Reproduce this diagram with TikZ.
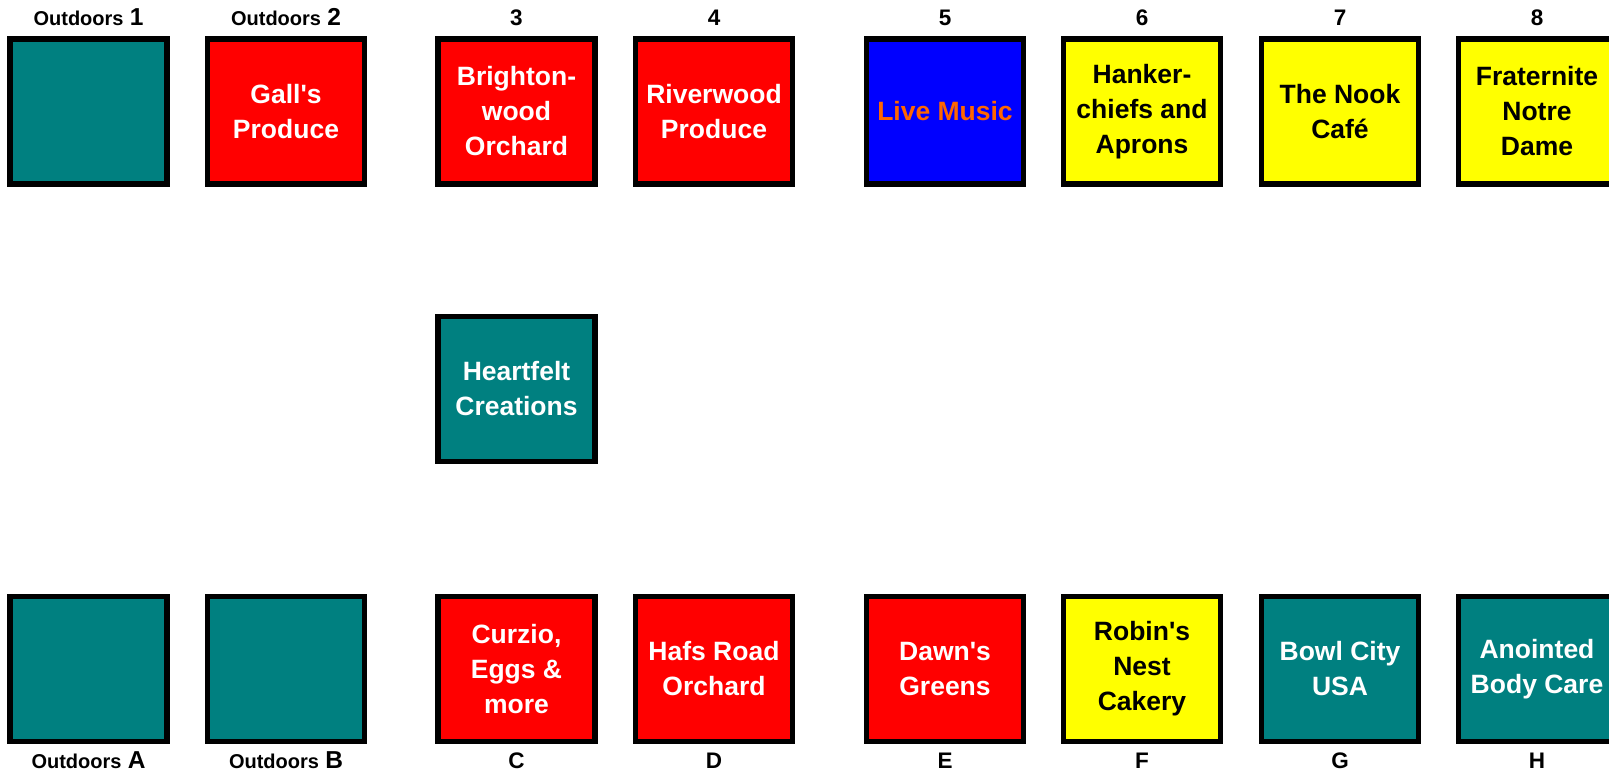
\documentclass[tikz,border=0pt]{standalone}
\usepackage{fontspec}
\setmainfont{Liberation Sans}[Ligatures=TeXOff]
\usepackage{tikz}
\usetikzlibrary{positioning}
\definecolor{stallteal}{RGB}{0,128,128}
\definecolor{stallred}{RGB}{255,0,0}
\definecolor{stallblue}{RGB}{0,0,255}
\definecolor{stallyellow}{RGB}{255,255,0}
\definecolor{musicorange}{RGB}{255,102,0}
\newcommand{\stallfont}{\fontsize{26.5}{35}\selectfont\bfseries}
\newcommand{\numfont}{\fontsize{22.5}{26}\selectfont\bfseries}
\newcommand{\outfont}{\fontsize{20}{24}\selectfont\bfseries}
\newcommand{\outnum}{\fontsize{24.5}{28}\selectfont\bfseries}
\tikzset{
  stall/.style={draw=black, line width=5.7pt, minimum width=157pt, minimum height=145pt,
    inner sep=0pt, align=center, font=\stallfont},
  tealstall/.style={stall, fill=stallteal, text=white},
  redstall/.style={stall, fill=stallred, text=white},
  bluestall/.style={stall, fill=stallblue, text=musicorange},
  yellowstall/.style={stall, fill=stallyellow, text=black},
  toplabel/.style={anchor=base, inner sep=0pt, font=\numfont},
  botlabel/.style={anchor=base, inner sep=0pt, font=\numfont},
}
\begin{document}
\begin{tikzpicture}[x=1pt,y=-1pt]
  \useasboundingbox (0,0) rectangle (1609,773);
  \clip (0,0) rectangle (1609,773);
%%
  % Row: top stalls 1 - 8
  \node[tealstall] (s1) at (88.5,111.5) {};
  \node[redstall] (s2) at (286,111.5) {Gall's\\Produce};
  \node[redstall] (s3) at (516.5,111.5) {Brighton-\\wood\\Orchard};
  \node[redstall] (s4) at (714,111.5) {Riverwood\\Produce};
  \node[bluestall] (s5) at (945,111.5) {Live Music};
  \node[yellowstall] (s6) at (1142,111.5) {Hanker-\\chiefs and\\Aprons};
  \node[yellowstall] (s7) at (1340,111.5) {The Nook\\Café};
  \node[yellowstall] (s8) at (1537,111.5) {Fraternite\\Notre\\Dame};
  % Node: middle stall
  \node[tealstall] (hf) at (516.5,389) {Heartfelt\\Creations};
  % Row: bottom stalls A - H
  \node[tealstall] (sA) at (88.5,669) {};
  \node[tealstall] (sB) at (286,669) {};
  \node[redstall] (sC) at (516.5,669) {Curzio,\\Eggs \&\\more};
  \node[redstall] (sD) at (714,669) {Hafs Road\\Orchard};
  \node[redstall] (sE) at (945,669) {Dawn's\\Greens};
  \node[yellowstall] (sF) at (1142,669) {Robin's\\Nest\\Cakery};
  \node[tealstall] (sG) at (1340,669) {Bowl City\\USA};
  \node[tealstall] (sH) at (1537,669) {Anointed\\Body Care};
%%
  % Labels: top
  \node[toplabel] (l1) at (88.5,26) {{\outfont Outdoors} {\outnum 1}};
  \node[toplabel] (l2) at (286,26) {{\outfont Outdoors} {\outnum 2}};
  \node[toplabel] (l3) at (516.5,26) {3};
  \node[toplabel] (l4) at (714,26) {4};
  \node[toplabel] (l5) at (945,26) {5};
  \node[toplabel] (l6) at (1142,26) {6};
  \node[toplabel] (l7) at (1340,26) {7};
  \node[toplabel] (l8) at (1537,26) {8};
  % Labels: bottom
  \node[botlabel] (lA) at (88.5,768) {{\outfont Outdoors} {\outnum A}};
  \node[botlabel] (lB) at (286,768) {{\outfont Outdoors} {\outnum B}};
  \node[botlabel] (lC) at (516.5,768) {C};
  \node[botlabel] (lD) at (714,768) {D};
  \node[botlabel] (lE) at (945,768) {E};
  \node[botlabel] (lF) at (1142,768) {F};
  \node[botlabel] (lG) at (1340,768) {G};
  \node[botlabel] (lH) at (1537,768) {H};
%
\end{tikzpicture}
\end{document}
